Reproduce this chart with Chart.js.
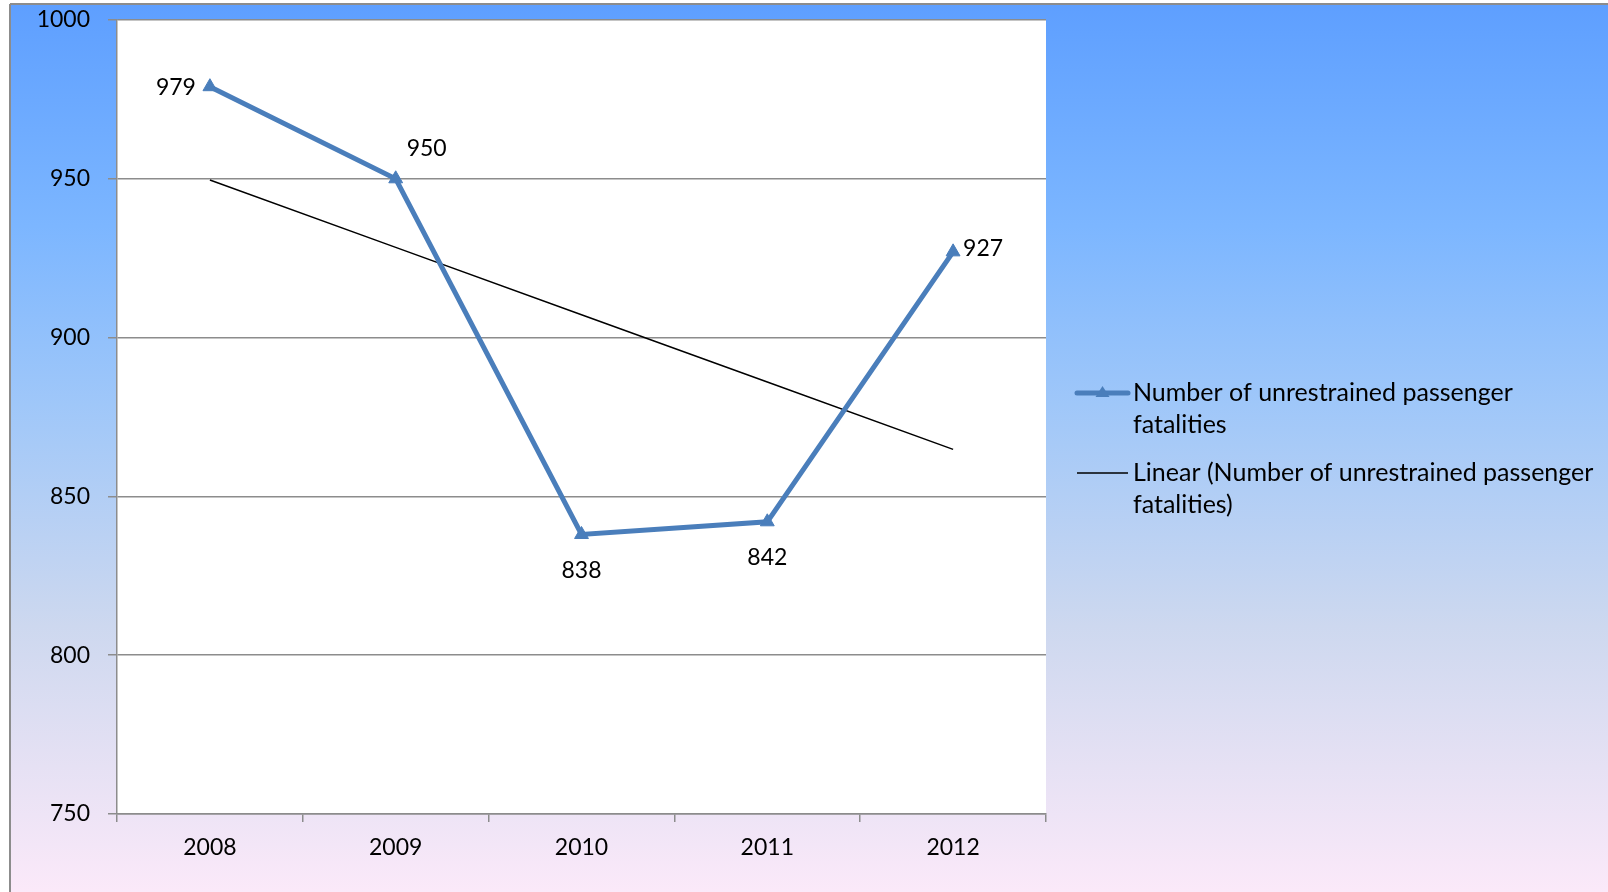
<!DOCTYPE html>
<html>
<head>
<meta charset="utf-8">
<script src="https://cdn.jsdelivr.net/npm/chart.js@4.4.0/dist/chart.umd.min.js"></script>
<style>
  html, body { margin: 0; padding: 0; background: #fff; }
  #wrap { width: 1608px; height: 892px; }
</style>
</head>
<body>
<div id="wrap"><canvas id="chart" width="1608" height="892"></canvas></div>
<script>
var years = ["2008", "2009", "2010", "2011", "2012"];
var fatalities = [979, 950, 838, 842, 927];
var trend = [949.6, 928.4, 907.2, 886.0, 864.8];
var yTicks = [750, 800, 850, 900, 950, 1000];
var seriesName = "Number of unrestrained passenger fatalities";
var trendName = "Linear (Number of unrestrained passenger fatalities)";

var font = "Lato, 'Open Sans', sans-serif";
var blue = "#4a7ebb";

// where each value label sits next to its point
var labelPlace = ["left", "aboveRight", "below", "below", "right"];

var backdrop = {
  id: "backdrop",
  beforeDraw: function(chart) {
    var ctx = chart.ctx;
    var a = chart.chartArea;
    ctx.save();
    ctx.fillStyle = "#fff";
    ctx.fillRect(0, 0, chart.width, chart.height);
    var g = ctx.createLinearGradient(0, 4, 0, chart.height);
    g.addColorStop(0, "#5e9fff");
    g.addColorStop(0.25, "#7cb6ff");
    g.addColorStop(0.45, "#9fc7f9");
    g.addColorStop(0.7, "#cdd8ef");
    g.addColorStop(0.86, "#e6e1f4");
    g.addColorStop(1, "#fbe9f9");
    ctx.fillStyle = g;
    ctx.fillRect(10, 4, chart.width - 10, chart.height - 4);
    ctx.strokeStyle = "#8c8c8c";
    ctx.lineWidth = 2;
    ctx.beginPath();
    ctx.moveTo(10, 4);
    ctx.lineTo(chart.width, 4);
    ctx.moveTo(10, 4);
    ctx.lineTo(10, chart.height);
    ctx.stroke();
    ctx.fillStyle = "#fff";
    ctx.fillRect(a.left, a.top, a.right - a.left, a.bottom - a.top);
    ctx.restore();
  }
};

var valueLabels = {
  id: "valueLabels",
  afterDatasetsDraw: function(chart) {
    var ctx = chart.ctx;
    var meta = chart.getDatasetMeta(0);
    ctx.save();
    ctx.font = "23px " + font;
    ctx.fillStyle = "#000";
    ctx.textBaseline = "middle";
    meta.data.forEach(function(pt, i) {
      var txt = String(fatalities[i]);
      var p = labelPlace[i];
      if (p == "left") {
        ctx.textAlign = "right";
        ctx.fillText(txt, pt.x - 14, pt.y + 1);
      } else if (p == "right") {
        ctx.textAlign = "left";
        ctx.fillText(txt, pt.x + 10, pt.y - 3);
      } else if (p == "aboveRight") {
        ctx.textAlign = "center";
        ctx.fillText(txt, pt.x + 31, pt.y - 30);
      } else {
        ctx.textAlign = "center";
        ctx.fillText(txt, pt.x, pt.y + 36);
      }
    });
    ctx.restore();
  }
};

var sideLegend = {
  id: "sideLegend",
  afterDraw: function(chart) {
    var ctx = chart.ctx;
    var x0 = 1077, x1 = 1128, tx = 1133;
    ctx.save();
    ctx.font = "25px " + font;
    ctx.fillStyle = "#000";
    ctx.textBaseline = "middle";
    ctx.textAlign = "left";

    ctx.strokeStyle = blue;
    ctx.lineWidth = 5;
    ctx.lineCap = "round";
    ctx.beginPath();
    ctx.moveTo(x0, 393);
    ctx.lineTo(x1, 393);
    ctx.stroke();
    ctx.fillStyle = blue;
    ctx.beginPath();
    var cx = (x0 + x1) / 2;
    ctx.moveTo(cx, 386);
    ctx.lineTo(cx + 7, 397);
    ctx.lineTo(cx - 7, 397);
    ctx.closePath();
    ctx.fill();

    ctx.fillStyle = "#000";
    ctx.fillText("Number of unrestrained passenger", tx, 393);
    ctx.fillText("fatalities", tx, 425);

    ctx.strokeStyle = "#000";
    ctx.lineWidth = 1.5;
    ctx.lineCap = "butt";
    ctx.beginPath();
    ctx.moveTo(x0, 473);
    ctx.lineTo(x1, 473);
    ctx.stroke();
    ctx.fillText("Linear (Number of unrestrained passenger", tx, 473);
    ctx.fillText("fatalities)", tx, 505);
    ctx.restore();
  }
};

var ctx = document.getElementById("chart");
var chart = new Chart(ctx, {
  type: "line",
  data: {
    labels: years,
    datasets: [
      {
        label: seriesName,
        data: fatalities,
        borderColor: blue,
        backgroundColor: blue,
        borderWidth: 5,
        pointStyle: "triangle",
        pointRadius: 8,
        pointBackgroundColor: blue,
        pointBorderColor: blue,
        pointBorderWidth: 1,
        tension: 0,
        fill: false
      },
      {
        label: trendName,
        data: trend,
        borderColor: "#000",
        borderWidth: 1.5,
        pointRadius: 0,
        tension: 0,
        fill: false
      }
    ]
  },
  options: {
    responsive: false,
    animation: false,
    devicePixelRatio: 1,
    layout: { padding: { left: 0, top: 20, right: 562, bottom: 0 } },
    plugins: {
      legend: { display: false },
      tooltip: { enabled: false }
    },
    scales: {
      x: {
        offset: true,
        grid: { offset: true, drawOnChartArea: false, tickLength: 8, color: "#8c8c8c", lineWidth: 1.5 },
        border: { color: "#8c8c8c", width: 1.5 },
        ticks: { color: "#000", font: { family: font, size: 23 }, padding: 12 },
        afterFit: function(s) { s.height = 78; s.paddingLeft = 0; s.paddingRight = 0; }
      },
      y: {
        min: 750,
        max: 1000,
        afterBuildTicks: function(s) { s.ticks = yTicks.map(function(v) { return { value: v }; }); },
        grid: { color: "#8c8c8c", lineWidth: 1.5, tickLength: 9 },
        border: { color: "#8c8c8c", width: 1.5 },
        ticks: {
          color: "#000",
          font: { family: font, size: 23 },
          padding: 18,
          callback: function(v) { return String(v); }
        },
        afterFit: function(s) { s.width = 117; s.paddingTop = 0; s.paddingBottom = 0; }
      }
    }
  },
  plugins: [backdrop, valueLabels, sideLegend]
});
</script>
</body>
</html>
